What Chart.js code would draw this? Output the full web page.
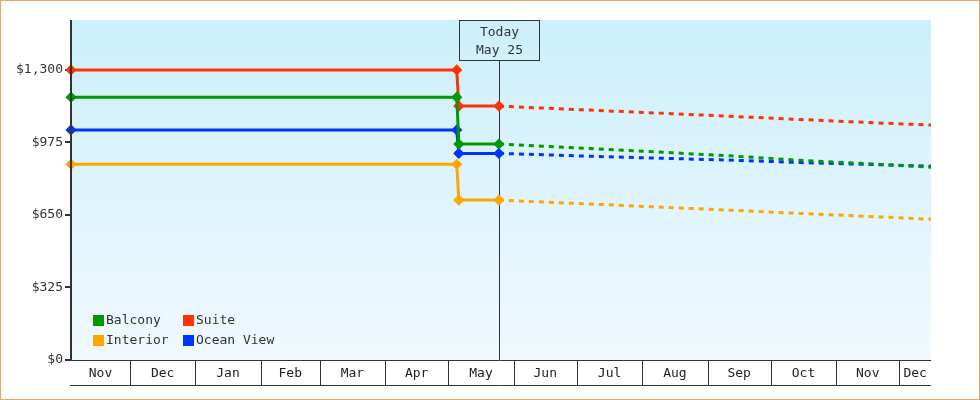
<!DOCTYPE html>
<html>
<head>
<meta charset="utf-8">
<script src="https://cdn.jsdelivr.net/npm/chart.js@4"></script>
<style>
  html, body { margin: 0; padding: 0; background: #fff; }
  #wrap { position: relative; width: 980px; height: 400px; box-sizing: border-box; border: 1px solid #e8a862; }
  canvas { position: absolute; left: -1px; top: -1px; }
</style>
</head>
<body>
<div id="wrap"><canvas id="chart" width="980" height="400"></canvas></div>
<script>
// day numbers counted from Nov 1 of last year
const monthNames = ["Nov", "Dec", "Jan", "Feb", "Mar", "Apr", "May", "Jun", "Jul", "Aug", "Sep", "Oct", "Nov", "Dec"];
const monthStarts = [0, 30, 61, 92, 120, 151, 181, 212, 242, 273, 304, 334, 365, 395, 426];
const xMin = 2;
const xMax = 410;
const today = 205;
const todayLabel = ["Today", "May 25"];

const yTicks = [0, 325, 650, 975, 1300];
const yMax = 1524;

// x positions of every price point: start, price change, today, then forecast
const days = [2, 185, 186, 205, 226, 256, 287, 318, 348, 379, 410];

const seriesNames = ["Balcony", "Suite", "Interior", "Ocean View"];
const seriesColors = ["#009900", "#ff3300", "#ffa500", "#0033ff"];

const balcony   = [1178, 1178, 968, 968, 958, 944, 929, 913, 895, 880, 864];
const suite     = [1300, 1300, 1138, 1138, 1129, 1117, 1104, 1091, 1078, 1065, 1053];
const interior  = [877, 877, 717, 717, 708, 696, 683, 670, 657, 644, 631];
const oceanView = [1031, 1031, 926, 926, 920, 911, 903, 895, 885, 877, 869];

const values = [balcony, suite, interior, oceanView];

const FONT = "13px 'DejaVu Sans Mono', monospace";

const datasets = values.map((vals, i) => ({
  label: seriesNames[i],
  data: vals.map((v, j) => ({ x: days[j], y: v })),
  borderColor: seriesColors[i],
  backgroundColor: seriesColors[i],
  borderWidth: 3,
  pointStyle: "rectRot",
  pointRadius: c => (c.parsed && c.parsed.x > today ? 0 : 3.5),
  pointHoverRadius: 0,
  segment: {
    borderDash: c => (c.p0.parsed.x >= today ? [5, 5] : undefined)
  },
  clip: false,
  tension: 0
}));

// plot background + month cells + today box + legend
const decor = {
  id: "decor",
  beforeDatasetsDraw(chart) {
    const { ctx, chartArea: a } = chart;
    ctx.save();
    const g = ctx.createLinearGradient(0, a.top, 0, a.bottom);
    g.addColorStop(0, "#cceffc");
    g.addColorStop(1, "#f0f9fe");
    ctx.fillStyle = g;
    ctx.fillRect(a.left, a.top, a.right - a.left, a.bottom - a.top);

    // today line and box
    const x = Math.round(chart.scales.x.getPixelForValue(today)) + 0.5;
    ctx.strokeStyle = "#333";
    ctx.lineWidth = 1;
    ctx.beginPath();
    ctx.moveTo(x, a.top + 40);
    ctx.lineTo(x, a.bottom);
    ctx.stroke();
    ctx.strokeRect(x - 40, a.top + 0.5, 80, 40);
    ctx.fillStyle = "#333";
    ctx.font = FONT;
    ctx.textAlign = "center";
    ctx.textBaseline = "middle";
    ctx.fillText(todayLabel[0], x, a.top + 12.5);
    ctx.fillText(todayLabel[1], x, a.top + 30.5);

    // legend, two columns
    ctx.textAlign = "left";
    seriesNames.forEach((name, n) => {
      const lx = a.left + 22 + (n % 2) * 90;
      const ly = a.bottom - 45 + Math.floor(n / 2) * 20;
      ctx.fillStyle = seriesColors[n];
      ctx.fillRect(lx, ly, 11, 11);
      ctx.fillStyle = "#333";
      ctx.fillText(name, lx + 13, ly + 6);
    });
    ctx.restore();
  },
  afterDraw(chart) {
    const { ctx, chartArea: a } = chart;
    const xs = chart.scales.x;
    ctx.save();
    ctx.strokeStyle = "#333";
    ctx.lineWidth = 1;
    const top = a.bottom;
    const bot = a.bottom + 25;
    ctx.beginPath();
    ctx.moveTo(a.left - 1, top + 0.5);
    ctx.lineTo(a.right, top + 0.5);
    ctx.moveTo(a.left - 1, bot + 0.5);
    ctx.lineTo(a.right, bot + 0.5);
    ctx.stroke();
    // y axis line, 2px
    ctx.lineWidth = 2;
    ctx.beginPath();
    ctx.moveTo(a.left, a.top);
    ctx.lineTo(a.left, a.bottom + 1);
    ctx.stroke();
    ctx.lineWidth = 1;
    ctx.fillStyle = "#222";
    ctx.font = FONT;
    ctx.textAlign = "center";
    ctx.textBaseline = "middle";
    for (let i = 0; i < monthNames.length; i++) {
      const s = Math.max(monthStarts[i], xMin);
      const e = Math.min(monthStarts[i + 1], xMax);
      const px0 = xs.getPixelForValue(s);
      const px1 = xs.getPixelForValue(e);
      if (monthStarts[i] > xMin) {
        const bx = Math.round(px0) + 0.5;
        ctx.beginPath();
        ctx.moveTo(bx, top);
        ctx.lineTo(bx, bot);
        ctx.stroke();
      }
      ctx.fillText(monthNames[i], (px0 + px1) / 2, top + 13.5);
    }
    ctx.restore();
  }
};

new Chart(document.getElementById("chart"), {
  type: "line",
  data: { datasets },
  plugins: [decor],
  options: {
    responsive: false,
    animation: false,
    layout: { padding: { top: 20, right: 49, left: 0, bottom: 0 } },
    plugins: { legend: { display: false }, tooltip: { enabled: false } },
    scales: {
      x: {
        type: "linear",
        min: xMin,
        max: xMax,
        ticks: { display: false },
        grid: { display: false },
        border: { display: false },
        afterFit: s => { s.height = 40; }
      },
      y: {
        min: 0,
        max: yMax,
        afterBuildTicks: s => { s.ticks = yTicks.map(v => ({ value: v })); },
        ticks: {
          color: "#333",
          font: { family: "'DejaVu Sans Mono', monospace", size: 13 },
          padding: 2,
          callback: v => "$" + v.toLocaleString("en-US")
        },
        grid: { drawOnChartArea: false, tickLength: 6, color: "#333", lineWidth: 2 },
        border: { display: false },
        afterFit: s => { s.width = 71; }
      }
    }
  }
});
</script>
</body>
</html>
